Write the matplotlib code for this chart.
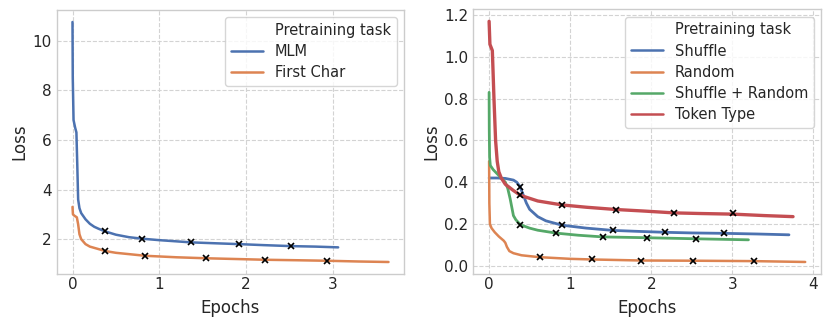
import matplotlib
matplotlib.use("Agg")
import matplotlib.pyplot as plt
import seaborn as sns
from matplotlib.lines import Line2D

sns.set_theme(style="whitegrid", rc={"grid.linestyle": "--"})
plt.rcParams['font.family'] = ['DejaVu Sans']

# ---- Left panel data ----
mlm_x = [0.0, 0.003, 0.012, 0.03, 0.045, 0.055, 0.065, 0.08, 0.1, 0.15, 0.2, 0.25, 0.3, 0.37, 0.5, 0.65, 0.8, 1.0, 1.37, 1.6, 1.92, 2.2, 2.52, 2.8, 3.06]
mlm_y = [10.75, 8.5, 6.8, 6.5, 6.3, 5.0, 3.6, 3.25, 3.05, 2.8, 2.62, 2.5, 2.42, 2.32, 2.18, 2.08, 2.02, 1.96, 1.87, 1.84, 1.80, 1.76, 1.72, 1.70, 1.67]
fc_x = [0.0, 0.005, 0.02, 0.05, 0.065, 0.08, 0.1, 0.15, 0.2, 0.3, 0.38, 0.5, 0.84, 1.2, 1.54, 2.0, 2.22, 2.6, 2.93, 3.3, 3.64]
fc_y = [3.3, 3.0, 2.95, 2.88, 2.6, 2.2, 2.0, 1.8, 1.7, 1.6, 1.52, 1.45, 1.33, 1.27, 1.23, 1.19, 1.17, 1.15, 1.13, 1.10, 1.08]
mlm_mx = [0.37, 0.80, 1.37, 1.92, 2.52]
mlm_my = [2.32, 2.02, 1.87, 1.80, 1.72]
fc_mx = [0.38, 0.84, 1.54, 2.22, 2.93]
fc_my = [1.52, 1.33, 1.23, 1.17, 1.13]

# ---- Right panel data ----
sh_x = [0.0, 0.1, 0.2, 0.3, 0.34, 0.38, 0.42, 0.46, 0.5, 0.6, 0.7, 0.9, 1.2, 1.53, 1.8, 2.17, 2.5, 2.9, 3.3, 3.7]
sh_y = [0.42, 0.42, 0.418, 0.41, 0.40, 0.38, 0.34, 0.30, 0.27, 0.235, 0.215, 0.194, 0.18, 0.169, 0.165, 0.160, 0.157, 0.155, 0.152, 0.148]
rd_x = [0.0, 0.003, 0.01, 0.03, 0.07, 0.12, 0.18, 0.2, 0.22, 0.25, 0.3, 0.4, 0.62, 1.0, 1.265, 1.88, 2.52, 3.27, 3.9]
rd_y = [0.50, 0.30, 0.20, 0.18, 0.16, 0.14, 0.12, 0.11, 0.09, 0.07, 0.06, 0.05, 0.041, 0.033, 0.030, 0.025, 0.024, 0.022, 0.018]
sr_x = [0.0, 0.002, 0.006, 0.015, 0.05, 0.1, 0.15, 0.2, 0.23, 0.26, 0.28, 0.3, 0.33, 0.387, 0.5, 0.6, 0.83, 1.1, 1.4, 1.95, 2.55, 3.2]
sr_y = [0.83, 0.65, 0.52, 0.48, 0.46, 0.44, 0.42, 0.40, 0.37, 0.32, 0.28, 0.24, 0.22, 0.196, 0.18, 0.17, 0.156, 0.146, 0.138, 0.134, 0.129, 0.124]
tt_x = [0.0, 0.01, 0.02, 0.04, 0.06, 0.08, 0.1, 0.12, 0.15, 0.2, 0.3, 0.387, 0.6, 0.9, 1.2, 1.57, 1.9, 2.28, 2.6, 3.01, 3.4, 3.75]
tt_y = [1.17, 1.06, 1.05, 1.03, 0.80, 0.60, 0.50, 0.45, 0.42, 0.39, 0.36, 0.337, 0.31, 0.291, 0.28, 0.269, 0.262, 0.253, 0.25, 0.247, 0.24, 0.235]
sh_mx = [0.387, 0.895, 1.53, 2.17, 2.90]
sh_my = [0.379, 0.194, 0.169, 0.160, 0.156]
rd_mx = [0.622, 1.265, 1.88, 2.52, 3.27]
rd_my = [0.041, 0.030, 0.025, 0.024, 0.022]
sr_mx = [0.387, 0.83, 1.40, 1.95, 2.55]
sr_my = [0.196, 0.156, 0.138, 0.134, 0.129]
tt_mx = [0.387, 0.90, 1.57, 2.28, 3.01]
tt_my = [0.337, 0.291, 0.269, 0.253, 0.253]

pal = sns.color_palette("deep")

fig = plt.figure(figsize=(8.3, 3.26), dpi=100)
W, H = 830, 326
ax1 = fig.add_axes([56.7 / W, (H - 274) / H, (404.3 - 56.7) / W, (274 - 10) / H])
ax2 = fig.add_axes([473.3 / W, (H - 274) / H, (821 - 473.3) / W, (274 - 9.3) / H])

def style(ax):
    ax.grid(True, linestyle="--", color="#d3d3d3", linewidth=0.8)
    for s in ax.spines.values():
        s.set_color("#cccccc")
        s.set_linewidth(1.0)
    ax.tick_params(labelsize=11, length=0)
    ax.tick_params(axis="x", pad=2)
    ax.tick_params(axis="y", pad=3.5)
    ax.set_xlabel("Epochs", fontsize=12, labelpad=5)
    ax.set_ylabel("Loss", fontsize=12, labelpad=3)

mk = dict(marker="x", color="black", linestyle="none", markersize=5, markeredgewidth=1.2, zorder=5)

ax1.plot(mlm_x, mlm_y, color=pal[0], lw=1.8, label="MLM")
ax1.plot(fc_x, fc_y, color=pal[1], lw=1.8, label="First Char")
ax1.plot(mlm_mx, mlm_my, **mk)
ax1.plot(fc_mx, fc_my, **mk)
ax1.set_xticks([0, 1, 2, 3])
ax1.set_yticks([2, 4, 6, 8, 10])
style(ax1)

ax2.plot(sh_x, sh_y, color=pal[0], lw=2.0, label="Shuffle")
ax2.plot(rd_x, rd_y, color=pal[1], lw=1.8, label="Random")
ax2.plot(sr_x, sr_y, color=pal[2], lw=2.0, label="Shuffle + Random")
ax2.plot(tt_x, tt_y, color=pal[3], lw=2.4, label="Token Type")
for mx, my in [(sh_mx, sh_my), (rd_mx, rd_my), (sr_mx, sr_my), (tt_mx, tt_my)]:
    ax2.plot(mx, my, **mk)
ax2.set_xticks([0, 1, 2, 3, 4])
ax2.set_yticks([0.0, 0.2, 0.4, 0.6, 0.8, 1.0, 1.2])
ax2.set_yticklabels(["0.0", "0.2", "0.4", "0.6", "0.8", "1.0", "1.2"])
style(ax2)

def legend(ax, names):
    blank = Line2D([], [], linestyle="none")
    handles = [blank] + [l for l in ax.get_lines()[:len(names)]]
    labels = ["Pretraining task"] + names
    lg = ax.legend(handles, labels, loc="upper right", fontsize=10.5, frameon=True,
                   borderaxespad=0.5, handlelength=2.2, labelspacing=0.42)
    lg.get_frame().set_edgecolor("#cccccc")
    for line in lg.get_lines():
        line.set_linewidth(1.8)

legend(ax1, ["MLM", "First Char"])
legend(ax2, ["Shuffle", "Random", "Shuffle + Random", "Token Type"])

fig.savefig("out.png", dpi=100)
